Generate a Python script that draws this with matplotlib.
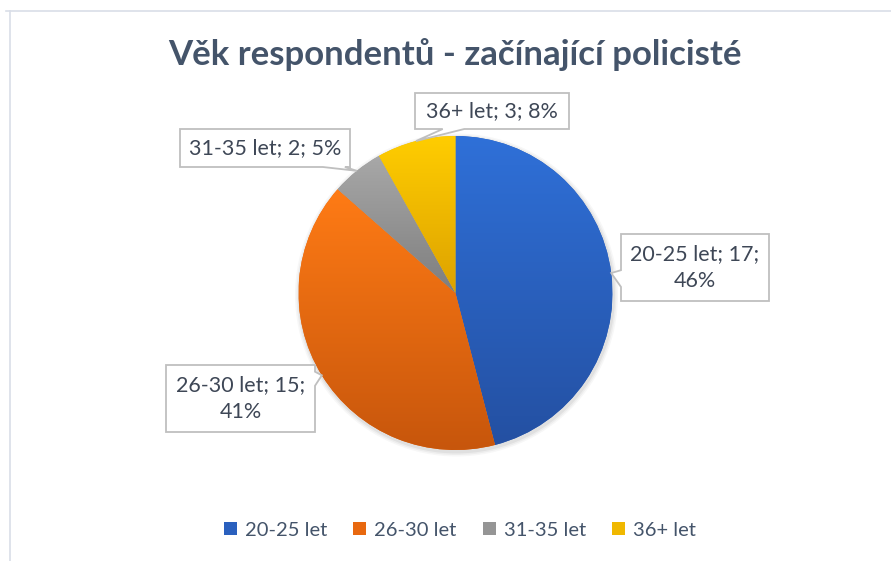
import numpy as np
import matplotlib
matplotlib.use("Agg")
import matplotlib.pyplot as plt
from matplotlib.colors import LinearSegmentedColormap
from matplotlib.patches import Polygon, Rectangle
from matplotlib.lines import Line2D

# ---------------- data ----------------
title = "Věk respondentů - začínající policisté"
categories = ["20-25 let", "26-30 let", "31-35 let", "36+ let"]
counts = [17, 15, 2, 3]
percent_labels = ["46%", "41%", "5%", "8%"]

# ---------------- style ----------------
W, H = 891, 561
FONT = "Lato"
TEXT_C = "#44546A"
LABEL_C = "#3E4756"
grad_top = ["#2F70D8", "#FF7B15", "#A8A8A8", "#FFCD00"]
grad_bot = ["#2450A2", "#C7560C", "#7E7E7E", "#DDA200"]
legend_c = ["#2A60BE", "#E8680F", "#959595", "#F0B800"]

fig = plt.figure(figsize=(W / 100, H / 100), dpi=100)
ax = fig.add_axes([0, 0, 1, 1])
ax.set_axis_off()

def Y(py):
    return H - py

center = (455.5, Y(293))
radius = 157

# faint shadow
for k, a in enumerate([0.05, 0.04, 0.03]):
    sh = plt.Circle((center[0] + 1, center[1] - 2), radius + 1.5 + k * 1.5,
                    color="black", alpha=a, lw=0, zorder=1)
    ax.add_patch(sh)

wedges, _ = ax.pie(counts, startangle=90, counterclock=False, center=center,
                   radius=radius, colors=legend_c,
                   wedgeprops=dict(linewidth=0, zorder=2))

# gradient fills clipped to each wedge
grad = np.linspace(0, 1, 256).reshape(-1, 1)
for w, ct, cb in zip(wedges, grad_top, grad_bot):
    ext = w.get_path().get_extents()
    cmap = LinearSegmentedColormap.from_list("g", [ct, cb])
    im = ax.imshow(grad, extent=[ext.x0, ext.x1, ext.y0, ext.y1], origin="upper",
                   cmap=cmap, aspect="auto", zorder=3, interpolation="bilinear")
    im.set_clip_path(w)

# ---------------- callout labels ----------------
# box (x0, y0, x1, y1) in pixel layout, side of pointer, base fractions
boxes = [
    ((621, 234, 769, 301), "left", (0.54, 0.79)),
    ((166, 365, 315, 432), "right", (0.10, 0.31)),
    ((180, 129, 350, 167), "bottom", (0.84, 0.97)),
    ((415, 93, 569, 129), "bottom", (0.18, 0.32)),
]
label_texts = [
    f"{categories[0]}; {counts[0]};\n{percent_labels[0]}",
    f"{categories[1]}; {counts[1]};\n{percent_labels[1]}",
    f"{categories[2]}; {counts[2]}; {percent_labels[2]}",
    f"{categories[3]}; {counts[3]}; {percent_labels[3]}",
]

for w, (bx, side, fr), txt in zip(wedges, boxes, label_texts):
    mid = np.deg2rad((w.theta1 + w.theta2) / 2)
    tip = (w.center[0] + w.r * np.cos(mid), w.center[1] + w.r * np.sin(mid))
    x0, y0p, x1, y1p = bx
    top, bot = Y(y0p), Y(y1p)
    if side == "bottom":
        b1 = x0 + fr[0] * (x1 - x0)
        b2 = x0 + fr[1] * (x1 - x0)
        verts = [(x0, top), (x1, top), (x1, bot), (b2, bot), tip, (b1, bot), (x0, bot)]
    elif side == "left":
        b1 = top - fr[0] * (top - bot)
        b2 = top - fr[1] * (top - bot)
        verts = [(x0, top), (x1, top), (x1, bot), (x0, bot), (x0, b2), tip, (x0, b1)]
    else:  # right
        b1 = top - fr[0] * (top - bot)
        b2 = top - fr[1] * (top - bot)
        verts = [(x0, top), (x1, top), (x1, b1), tip, (x1, b2), (x1, bot), (x0, bot)]
    poly = Polygon(verts, closed=True, facecolor="white", edgecolor="#BFBFBF",
                   linewidth=1.3, zorder=5, joinstyle="miter")
    ax.add_patch(poly)
    ax.text((x0 + x1) / 2, (top + bot) / 2, txt, ha="center", va="center",
            multialignment="center", fontsize=15.5, color=LABEL_C, family=FONT,
            zorder=6, linespacing=1.4)

# ---------------- title ----------------
ax.text(455, Y(55), title, ha="center", va="center", fontsize=25,
        fontweight="bold", color=TEXT_C, family=FONT)

# ---------------- legend ----------------
handles = [Rectangle((0, 0), 1, 1, facecolor=c, edgecolor="none") for c in legend_c]
leg = fig.legend(handles, categories, loc="center", bbox_to_anchor=(460 / W, 1 - 530 / H),
                 ncol=4, frameon=False, handlelength=0.65, handleheight=0.65,
                 handletextpad=0.4, columnspacing=1.3,
                 prop=dict(family=FONT, size=14.5))
for t in leg.get_texts():
    t.set_color(TEXT_C)

# ---------------- faint chart frame ----------------
fig.add_artist(Line2D([6 / W, 1], [1 - 11 / H, 1 - 11 / H], color="#D9DEE8", lw=1.2))
fig.add_artist(Line2D([10 / W, 10 / W], [1 - 11 / H, 0], color="#D9DEE8", lw=1.2))

ax.set_xlim(0, W)
ax.set_ylim(0, H)
ax.set_aspect("equal")

fig.savefig("out.png", dpi=100, facecolor="white")
